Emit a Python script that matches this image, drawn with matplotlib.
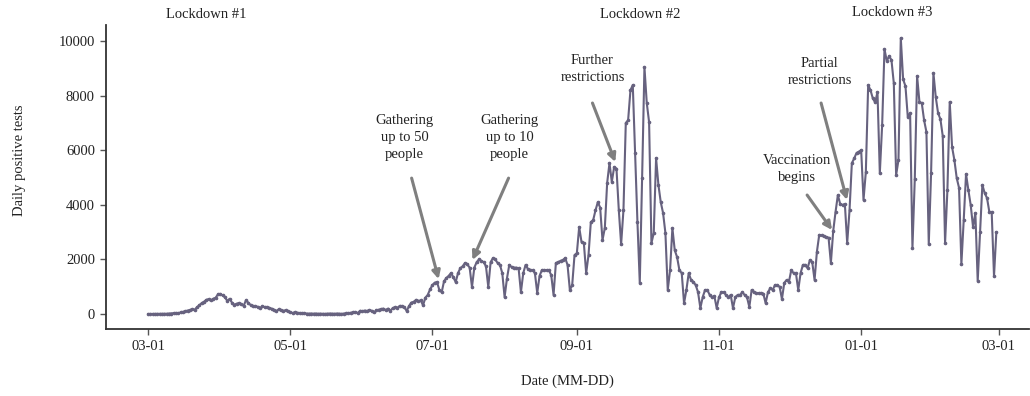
import pandas as pd
import matplotlib
matplotlib.use("Agg")
import matplotlib.pyplot as plt
import matplotlib.dates as mdates

# daily positive tests, one list per month
mar_2020 = [2, 3, 4, 5, 5, 8, 6, 10, 12, 18, 20, 30, 40, 30,
            60, 80, 100, 130, 150, 180, 160, 250, 320, 400, 450, 520, 550, 500,
            560, 600, 720]
apr_2020 = [740, 680, 620, 480, 560, 420, 340, 380, 400, 360, 300,
            500, 420, 330, 300, 280, 270, 220, 280, 260, 250, 230, 200, 160, 110,
            170, 150, 120, 140, 100]
may_2020 = [60, 40, 60, 50, 40, 30, 30, 20, 15, 20, 15, 20, 10, 15, 10, 5,
            15, 20, 15, 10, 20, 15, 5, 20, 25, 30, 50, 60, 70, 40, 120]
jun_2020 = [100, 130, 110, 150, 120, 60, 140, 160, 180, 200, 150, 200, 120,
            220, 250, 230, 300, 290, 250, 110, 300, 420, 450, 520, 480, 500, 320,
            600, 700, 900]
jul_2020 = [1060, 1150, 1170, 880, 800, 1200, 1320, 1400, 1500, 1350, 1170,
            1500, 1680, 1750, 1870, 1820, 1700, 990, 1700, 1900, 2000, 1950, 1900, 1750, 990,
            1900, 2050, 2000, 1870, 1800, 1500]
aug_2020 = [620, 1300, 1800, 1720, 1700, 1700, 1680, 800,
            1500, 1800, 1650, 1620, 1610, 1500, 770, 1400, 1610, 1610, 1610, 1600, 1430, 700,
            1870, 1900, 1950, 1980, 2050, 1800, 880, 1060, 2160]
sep_2020 = [2230, 3190, 2640, 2600, 1500, 2160, 3370, 3440, 3800, 4100, 3900, 2710,
            3150, 4800, 5530, 4840, 5380, 5330, 3810, 2560, 3810, 7000, 7100, 8200, 8390, 5900,
            3370, 1140, 4980, 9050]
oct_2020 = [7730, 7030, 2600, 2970, 5710, 4730, 4100, 3700, 2970, 880,
            1610, 3150, 2340, 2090, 1610, 1500, 400, 880, 1500, 1250, 1180, 1060, 800, 220,
            620, 880, 880, 700, 620, 660, 220]
nov_2020 = [620, 800, 800, 700, 620, 700, 220, 620, 700, 700, 800, 700, 620, 260,
            880, 800, 770, 770, 770, 750, 400, 800, 950, 880, 1060, 1060, 1000, 550,
            1140, 1250]
dec_2020 = [1180, 1610, 1500, 1500, 880, 1500, 1800, 1800, 1680, 1980, 1900, 1250,
            2280, 2900, 2880, 2850, 2820, 2800, 1870, 3040, 3740, 4360, 4030, 4000, 4030, 2600,
            3800, 5530, 5700, 5900, 5950]
jan_2021 = [6000, 4180, 5200, 8390, 8200, 7900, 7750, 8130,
            5160, 6920, 9700, 9270, 9450, 9300, 8460, 5090, 5640, 10110, 8600, 8350, 7220, 7360,
            2420, 4940, 8720, 7770, 7730, 7100, 6670, 2560, 5160]
feb_2021 = [8830, 7950, 7360, 7140, 6520, 2600, 4540, 7770, 6120, 5640, 4980, 4620,
            1830, 3440, 5130, 4540, 3990, 3190, 3700, 1210, 3000, 4730, 4430, 4250, 3740, 3740,
            1390, 3000]

START = pd.Timestamp("2020-03-01")

# (label, text x, text y, arrow start x, arrow start y, arrow tip x, arrow tip y); x in days from START
events = [
    ("Gathering\nup to 50\npeople", 110.1, 6480, 113.1, 4980, 124.7, 1280),
    ("Gathering\nup to 10\npeople", 155.1, 6480, 154.7, 4980, 139.2, 1980),
    ("Further\nrestrictions", 190.7, 8990, 190.7, 7730, 200.5, 5570),
    ("Vaccination\nbegins", 278.5, 5330, 282.8, 4360, 293.5, 3080),
    ("Partial\nrestrictions", 288.3, 8860, 288.8, 7730, 299.9, 4180),
]
lockdowns = [("Lockdown #1", 24.8, 10990), ("Lockdown #2", 211.2, 10990),
             ("Lockdown #3", 319.2, 11060)]


def day(n):
    return START + pd.Timedelta(days=n)


def main():
    plt.rcParams["font.family"] = ["Liberation Serif", "DejaVu Serif"]
    plt.rcParams["font.size"] = 10.5

    values = (mar_2020 + apr_2020 + may_2020 + jun_2020 + jul_2020 + aug_2020
              + sep_2020 + oct_2020 + nov_2020 + dec_2020 + jan_2021 + feb_2021)
    dates = pd.date_range(START, periods=len(values), freq="D")

    fig = plt.figure(figsize=(10.3, 3.96), dpi=100)
    ax = fig.add_axes([0.103, 0.169, 0.896, 0.768])

    ax.plot(dates, values, color="#67627f", lw=1.5, marker="o", markersize=1.6)

    ax.set_xlim(day(-18), day(378))
    ax.set_ylim(-550, 10590)
    ax.set_yticks(range(0, 10001, 2000))
    ax.xaxis.set_major_locator(mdates.MonthLocator(bymonth=[1, 3, 5, 7, 9, 11]))
    ax.xaxis.set_major_formatter(mdates.DateFormatter("%m-%d"))

    for side in ("top", "right"):
        ax.spines[side].set_visible(False)
    for side in ("left", "bottom"):
        ax.spines[side].set_color("#333333")
        ax.spines[side].set_linewidth(1.3)
    ax.tick_params(length=4, width=1, color="#555555", labelcolor="#222222", pad=4)

    for label, tx, ty, sx, sy, hx, hy in events:
        ax.text(day(tx), ty, label, ha="center", va="center", color="#222222",
                linespacing=1.4)
        ax.annotate("", xy=(day(hx), hy), xytext=(day(sx), sy),
                    arrowprops=dict(arrowstyle="-|>", color="#7f7f7f", lw=2.2,
                                    mutation_scale=12, shrinkA=0, shrinkB=0))

    for label, tx, ty in lockdowns:
        ax.text(day(tx), ty, label, ha="center", va="center", color="#222222",
                clip_on=False)

    fig.text(20 / 1030, 1 - 160 / 396, "Daily positive tests", rotation=90,
             ha="center", va="center", color="#222222")
    fig.text(567 / 1030, 1 - 381 / 396, "Date (MM-DD)", ha="center", va="center",
             color="#222222")

    fig.savefig("out.png", dpi=100)
    plt.close(fig)


if __name__ == "__main__":
    main()
